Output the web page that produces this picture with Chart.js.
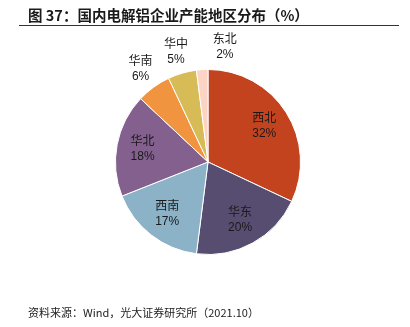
<!DOCTYPE html>
<html>
<head>
<meta charset="utf-8">
<script src="https://cdn.jsdelivr.net/npm/chart.js@4/dist/chart.umd.min.js"></script>
<style>
  html, body { margin: 0; padding: 0; background: #fff; }
  #wrap { position: relative; width: 410px; height: 327px; overflow: hidden; font-family: "Liberation Sans", "Noto Sans CJK SC", sans-serif; }
  #title { position: absolute; left: 28px; top: 5px; font-size: 14.5px; font-weight: bold; color: #1a1a1a; white-space: nowrap; line-height: 20px; font-family: "Noto Sans CJK SC", sans-serif; }
  #rule { position: absolute; left: 19px; top: 25px; width: 380px; height: 1px; background: #333; }
  #source { position: absolute; left: 28px; top: 304px; font-size: 11px; color: #222; white-space: nowrap; line-height: 16px; font-family: "Noto Sans CJK SC", sans-serif; }
  #chart { position: absolute; left: 0; top: 0; }
</style>
</head>
<body>
<div id="wrap">
  <canvas id="chart" width="410" height="327"></canvas>
  <div id="title">图 37：国内电解铝企业产能地区分布（%）</div>
  <div id="rule"></div>
  <div id="source">资料来源：Wind，光大证券研究所（2021.10）</div>
</div>
<script>
// Regions in clockwise order starting from 12 o'clock
const regions = ['西北', '华东', '西南', '华北', '华南', '华中', '东北'];
const shares = [32, 20, 17, 18, 6, 5, 2];
const colors = ['#C4431F', '#574D71', '#8BB2C7', '#84608E', '#F0943F', '#D7BB56', '#FBD4C3'];

// Draws "region / value%" labels: inside large slices, outside small ones
const sliceLabels = {
  id: 'sliceLabels',
  afterDatasetsDraw(chart, args, opts) {
    const ctx = chart.ctx;
    const meta = chart.getDatasetMeta(0);
    ctx.save();
    ctx.font = '12px "Liberation Sans", "Noto Sans CJK SC", sans-serif';
    ctx.fillStyle = '#1a1a1a';
    ctx.textAlign = 'center';
    ctx.textBaseline = 'middle';
    meta.data.forEach((arc, i) => {
      const v = chart.data.datasets[0].data[i];
      const mid = (arc.startAngle + arc.endAngle) / 2;
      const outside = v < opts.insideMin;
      const r = arc.outerRadius * (outside ? opts.outerFactor : opts.innerFactor);
      const shift = (opts.shiftX && opts.shiftX[i]) || 0;
      const x = arc.x + Math.cos(mid) * r + shift;
      const y = arc.y + Math.sin(mid) * r;
      ctx.fillText(chart.data.labels[i], x, y - 7.5);
      ctx.fillText(v + '%', x, y + 7.5);
    });
    ctx.restore();
  }
};

new Chart(document.getElementById('chart'), {
  type: 'pie',
  data: {
    labels: regions,
    datasets: [{
      data: shares,
      backgroundColor: colors,
      borderColor: '#ffffff',
      borderWidth: 1,
      hoverOffset: 0
    }]
  },
  options: {
    responsive: false,
    animation: false,
    layout: { padding: { top: 69, bottom: 72, left: 115, right: 109 } },
    plugins: {
      legend: { display: false },
      tooltip: { enabled: false },
      sliceLabels: { insideMin: 10, innerFactor: 0.72, outerFactor: 1.24, shiftX: { 6: 24 } }
    }
  },
  plugins: [sliceLabels]
});
</script>
</body>
</html>
